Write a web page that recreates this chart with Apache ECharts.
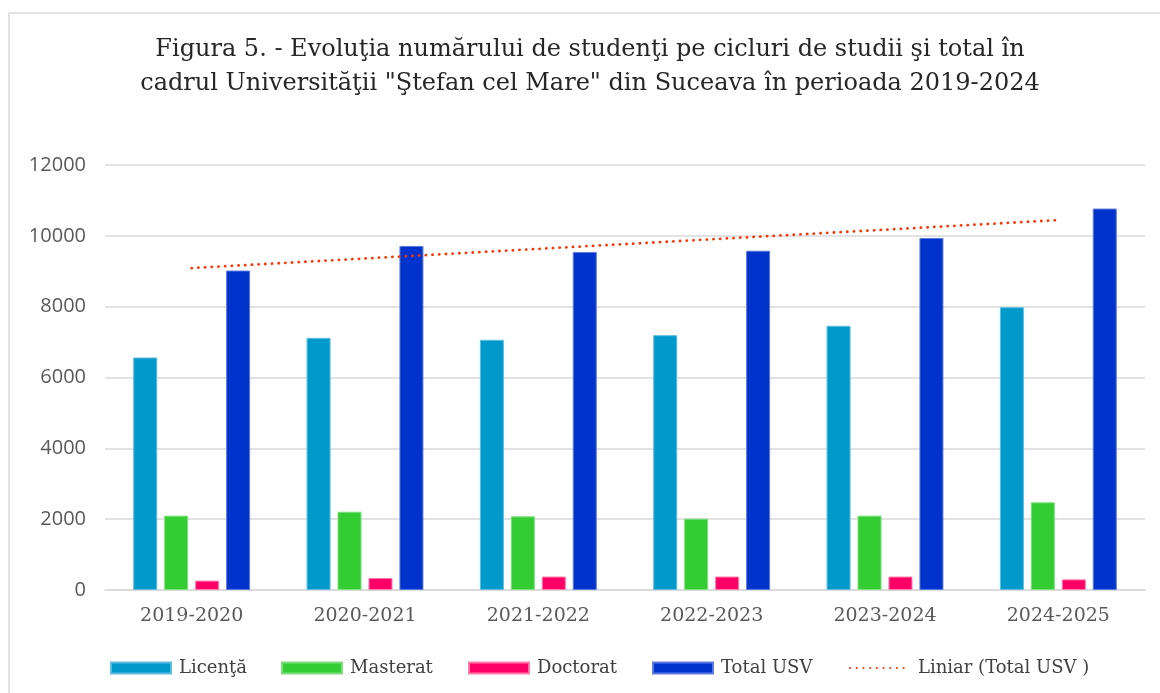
<!DOCTYPE html>
<html>
<head>
<meta charset="utf-8">
<script src="https://cdn.jsdelivr.net/npm/echarts@6/dist/echarts.min.js"></script>
<style>
  html, body { margin: 0; padding: 0; background: #fff; }
  #chart { width: 1160px; height: 693px; }
</style>
</head>
<body>
<div id="chart"></div>
<script>
const years = ['2019-2020', '2020-2021', '2021-2022', '2022-2023', '2023-2024', '2024-2025']
const licenta = [6565, 7120, 7065, 7195, 7460, 7985]
const masterat = [2100, 2210, 2080, 2015, 2100, 2475]
const doctorat = [265, 340, 380, 380, 380, 300]
const totalUsv = [9020, 9715, 9545, 9580, 9940, 10770]
// trend line read at first and last category, library joins them
const trendTotal = [9090, null, null, null, null, 10445]

const serif = '"DejaVu Serif", "Liberation Serif", serif'
const chart = echarts.init(document.getElementById('chart'))

function bar(name, data, color, border) {
  return {
    name,
    type: 'bar',
    data,
    barWidth: 24,
    barGap: '29%',
    itemStyle: { color, borderColor: border, borderWidth: 1 },
  }
}

function legendAt(name, left, extra) {
  return Object.assign({
    data: [name],
    left,
    top: 654,
    icon: 'rect',
    itemWidth: 60,
    itemHeight: 11,
    textStyle: { fontFamily: serif, fontSize: 18, color: '#404040', padding: [0, 0, 0, 3] },
  }, extra)
}

chart.setOption({
  backgroundColor: '#fff',
  animation: false,
  title: {
    text: 'Figura 5. - Evoluţia numărului de studenţi pe cicluri de studii şi total în\ncadrul Universităţii "Ştefan cel Mare" din Suceava în perioada 2019-2024',
    left: 590,
    top: 33,
    padding: 0,
    textAlign: 'center',
    textStyle: { fontFamily: serif, fontSize: 24, fontWeight: 'normal', color: '#262626', lineHeight: 34 },
  },
  graphic: [
    {
      type: 'rect',
      shape: { x: 9, y: 13, width: 1170, height: 700 },
      style: { fill: 'none', stroke: '#d9d9d9', lineWidth: 1.5 },
      silent: true,
    },
  ],
  legend: [
    legendAt('Licenţă', 105),
    legendAt('Masterat', 276),
    legendAt('Doctorat', 463),
    legendAt('Total USV', 647),
    legendAt('Liniar (Total USV )', 844, {
      icon: undefined,
      itemStyle: { color: 'rgba(0,0,0,0)', borderColor: 'rgba(0,0,0,0)', borderWidth: 0 },
    }),
  ],
  grid: { left: 105, right: 15, top: 165, bottom: 103 },
  xAxis: {
    type: 'category',
    data: years,
    axisLine: { lineStyle: { color: '#d9d9d9', width: 1.5 } },
    axisTick: { show: false },
    axisLabel: { fontFamily: serif, fontSize: 19, color: '#595959', margin: 17 },
  },
  yAxis: {
    type: 'value',
    min: 0,
    max: 12000,
    interval: 2000,
    axisLine: { show: false },
    axisTick: { show: false },
    splitLine: { lineStyle: { color: '#d9d9d9', width: 1.5 } },
    axisLabel: {
      fontFamily: '"Open Sans", "Liberation Sans", sans-serif',
      fontSize: 20,
      color: '#595959',
      margin: 19,
      formatter: (v) => String(v),
    },
  },
  series: [
    bar('Licenţă', licenta, '#0099cc', '#5cbde0'),
    bar('Masterat', masterat, '#33cc33', '#7de07d'),
    bar('Doctorat', doctorat, '#ff0066', '#ff7aa8'),
    bar('Total USV', totalUsv, '#0033cc', '#5c7ae0'),
    {
      name: 'Liniar (Total USV )',
      type: 'line',
      data: trendTotal,
      connectNulls: true,
      symbol: 'none',
      z: 5,
      lineStyle: { color: '#ff3300', width: 2.8, type: [0.1, 6.6], cap: 'round' },
      itemStyle: { color: '#ff3300' },
    },
  ],
})
</script>
</body>
</html>
